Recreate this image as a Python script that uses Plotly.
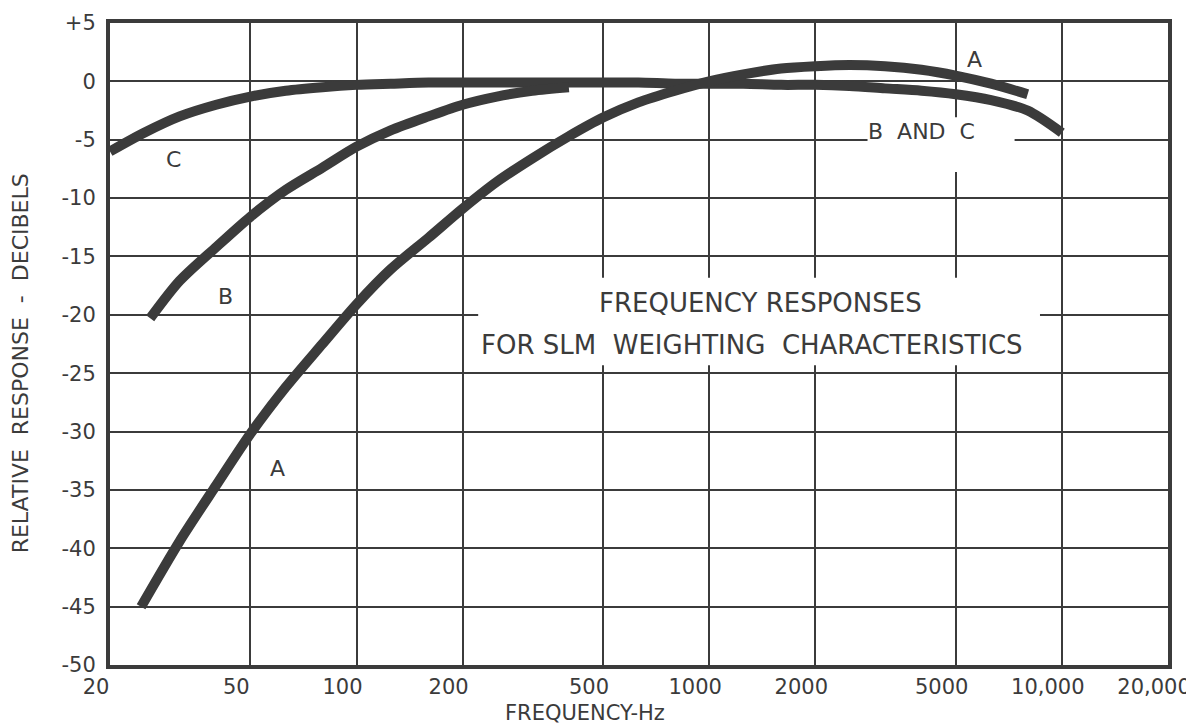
import numpy as np
import plotly.graph_objects as go

# ---- data ----
freq_A = [24.5, 31.5, 40, 50, 63, 80, 100, 125, 160, 200, 250, 315, 400, 500,
          630, 800, 1000, 1250, 1600, 2000, 2500, 3150, 4000, 5000, 6300, 8000]
resp_A = [-45.0, -39.4, -34.6, -30.2, -26.2, -22.5, -19.1, -16.1, -13.4, -10.9,
          -8.6, -6.6, -4.7, -3.1, -1.8, -0.8, 0.0, 0.6, 1.1, 1.3, 1.4, 1.3, 1.0,
          0.5, -0.2, -1.1]

freq_B = [26, 31.5, 40, 50, 63, 80, 100, 125, 160, 200, 250, 315, 400]
resp_B = [-20.3, -17.1, -14.2, -11.6, -9.3, -7.4, -5.6, -4.2, -3.0, -2.0, -1.3,
          -0.8, -0.5]

freq_C = [20, 25, 31.5, 40, 50, 63, 80, 100, 125, 160, 200, 250, 315, 400, 500,
          630, 800, 1000, 1250, 1600, 2000, 2500, 3150, 4000, 5000, 6300, 8000,
          10000]
resp_C = [-6.0, -4.4, -3.0, -2.0, -1.3, -0.8, -0.5, -0.3, -0.2, -0.1, -0.1,
          -0.1, -0.1, -0.1, -0.1, -0.1, -0.2, -0.2, -0.2, -0.3, -0.3, -0.4,
          -0.6, -0.8, -1.1, -1.6, -2.5, -4.4]

x_tickvals = [20, 50, 100, 200, 500, 1000, 2000, 5000, 10000, 20000]
x_ticktext = ["20", "50", "100", "200", "500", "1000", "2000", "5000",
              "10,000", "20,000"]
y_tickvals = [5, 0, -5, -10, -15, -20, -25, -30, -35, -40, -45, -50]
y_ticktext = ["+5", "0", "-5", "-10", "-15", "-20", "-25", "-30", "-35",
              "-40", "-45", "-50"]

curve_labels = ["C", "B", "A", "A", "B  AND  C"]
curve_label_freq = [30.3, 42.5, 59.6, 5650, 4000]
curve_label_db = [-6.7, -18.4, -33.2, 1.9, -4.3]

title_lines = ["FREQUENCY RESPONSES", "FOR SLM  WEIGHTING  CHARACTERISTICS"]

INK = "#3b3b3b"
FONT = "DejaVu Sans"

fig = go.Figure()
for fx, fy in [(freq_C, resp_C), (freq_B, resp_B), (freq_A, resp_A)]:
    fig.add_trace(go.Scatter(x=fx, y=fy, mode="lines",
                             line=dict(color=INK, width=10, shape="spline",
                                       smoothing=0.8),
                             showlegend=False, hoverinfo="skip"))

annotations = []
for t, f, d in zip(curve_labels, curve_label_freq, curve_label_db):
    annotations.append(dict(x=float(np.log10(f)), y=d, xref="x", yref="y",
                            text=t, showarrow=False,
                            xanchor="center", yanchor="middle",
                            font=dict(family=FONT, size=22, color=INK)))

annotations.append(dict(x=0.615, y=0.564, xref="paper", yref="paper",
                        text=title_lines[0], showarrow=False,
                        xanchor="center", yanchor="middle",
                        font=dict(family=FONT, size=26, color=INK)))
annotations.append(dict(x=0.607, y=0.499, xref="paper", yref="paper",
                        text=title_lines[1], showarrow=False,
                        xanchor="center", yanchor="middle",
                        font=dict(family=FONT, size=26, color=INK)))

annotations.append(dict(x=0.449, y=-0.074, xref="paper", yref="paper",
                        text="FREQUENCY-Hz", showarrow=False,
                        xanchor="center", yanchor="middle",
                        font=dict(family=FONT, size=21, color=INK)))
annotations.append(dict(x=-0.085, y=0.47, xref="paper", yref="paper",
                        text="RELATIVE  RESPONSE  -  DECIBELS", showarrow=False,
                        textangle=-90, xanchor="center", yanchor="middle",
                        font=dict(family=FONT, size=22, color=INK)))

# white patches that break the grid behind the lettering (no curves there)
shapes = [
    dict(type="rect", xref="paper", yref="paper", x0=0.348, x1=0.879,
         y0=0.467, y1=0.603, fillcolor="white", line=dict(width=0),
         layer="above"),
    dict(type="rect", xref="paper", yref="paper", x0=0.716, x1=0.855,
         y0=0.768, y1=0.853, fillcolor="white", line=dict(width=0),
         layer="above"),
]

fig.update_layout(
    width=1194, height=723,
    margin=dict(l=102, r=34, t=15, b=66),
    paper_bgcolor="white", plot_bgcolor="white",
    annotations=annotations, shapes=shapes,
    font=dict(family=FONT, color=INK),
)
fig.update_xaxes(type="log",
                 range=[np.log10(20) - 1e-5, np.log10(20000) + 1e-5],
                 tickvals=x_tickvals, ticktext=x_ticktext,
                 showgrid=True, gridcolor=INK, gridwidth=2,
                 showline=True, linecolor=INK, linewidth=4, mirror=True,
                 ticks="", ticklabelstandoff=0, ticklabelshift=-14,
                 ticklabeloverflow="allow",
                 zeroline=False, automargin=False,
                 tickfont=dict(family=FONT, size=21, color=INK))
fig.update_yaxes(range=[-50, 5], tickvals=y_tickvals, ticktext=y_ticktext,
                 showgrid=True, gridcolor=INK, gridwidth=2,
                 showline=True, linecolor=INK, linewidth=4, mirror=True,
                 ticks="", ticklabelstandoff=6, zeroline=False,
                 ticklabeloverflow="allow", automargin=False,
                 tickfont=dict(family=FONT, size=21, color=INK))

fig.write_html("out.html")
